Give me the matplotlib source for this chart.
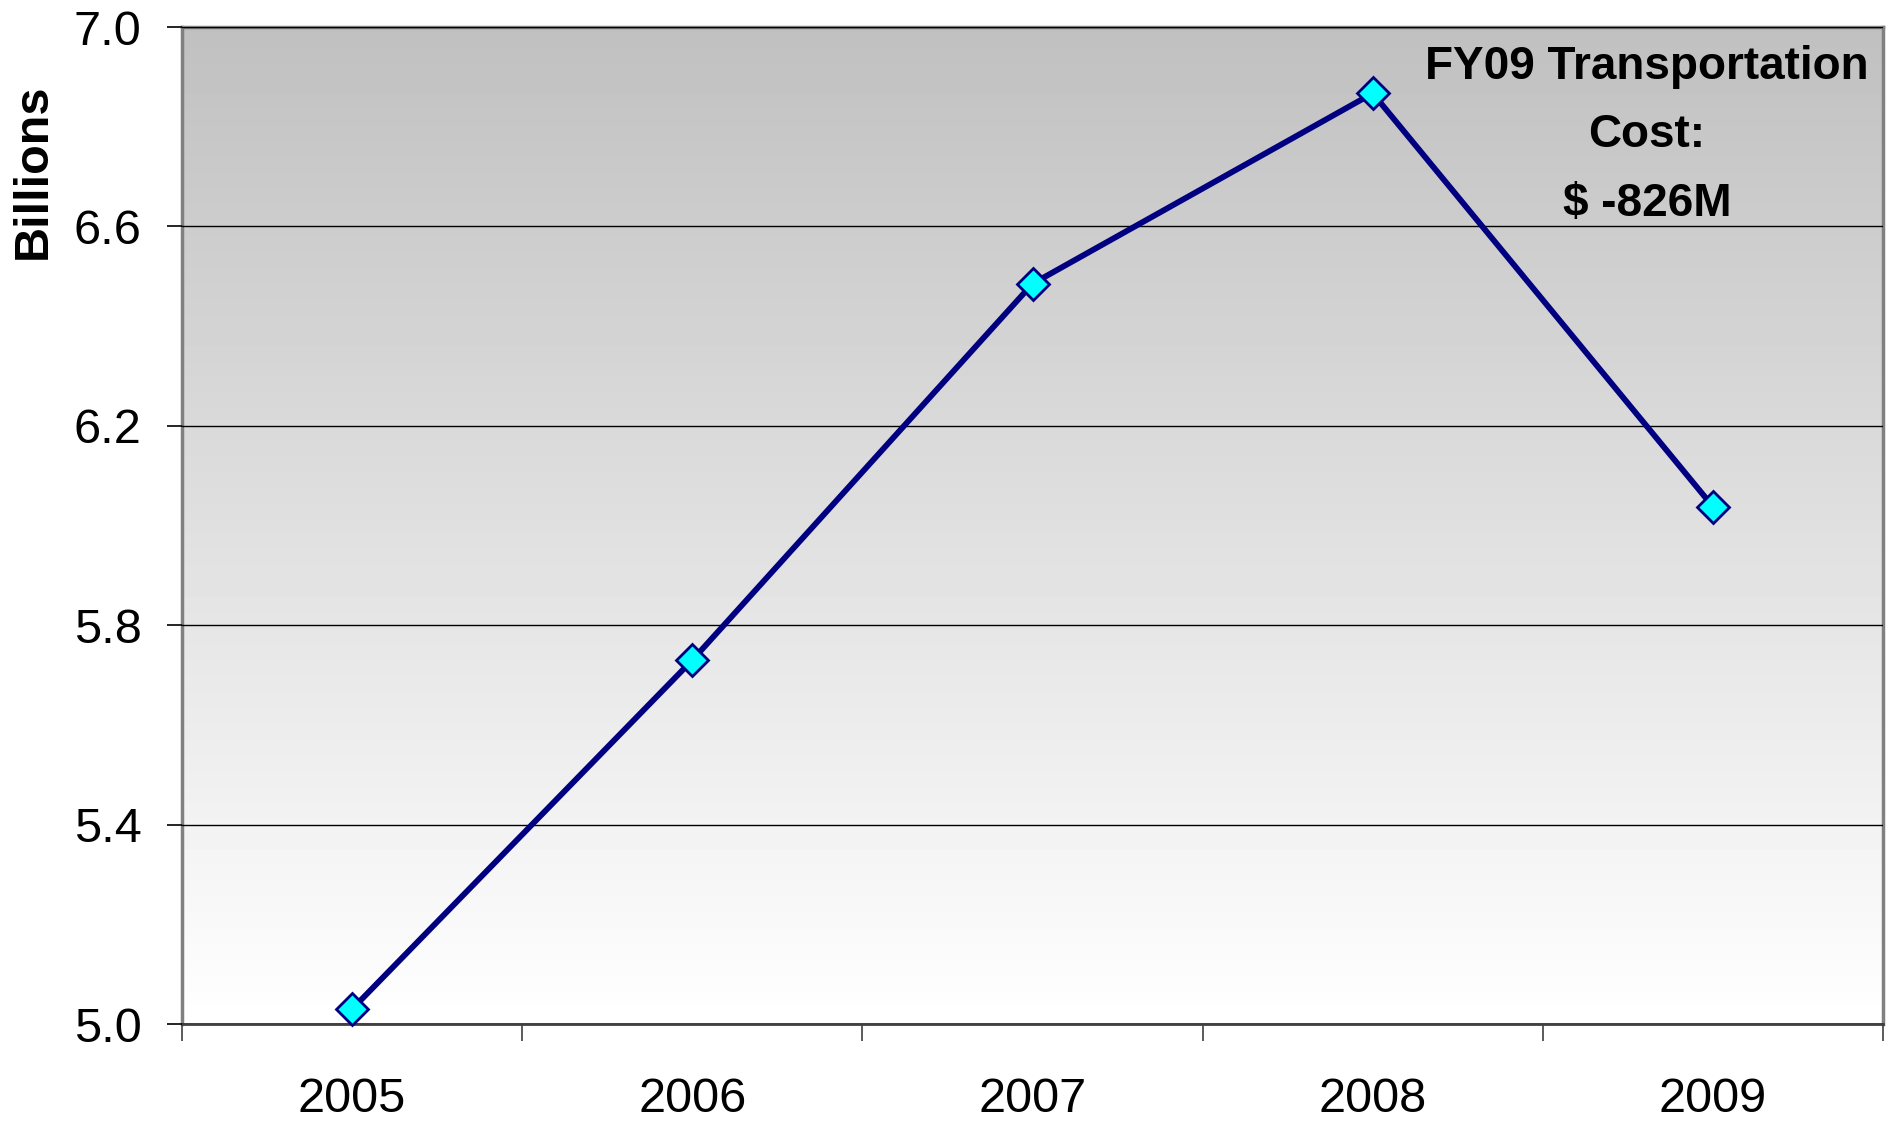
import matplotlib
matplotlib.use("Agg")
import matplotlib.pyplot as plt
import numpy as np

years = ["2005", "2006", "2007", "2008", "2009"]
cost_billions = [5.03, 5.73, 6.485, 6.867, 6.038]
y_ticks = [5.0, 5.4, 5.8, 6.2, 6.6, 7.0]
note = "FY09 Transportation\nCost:\n$ -826M"

plt.rcParams["font.family"] = ["Liberation Sans", "DejaVu Sans"]

fig = plt.figure(figsize=(18.94, 11.21), dpi=100)
ax = fig.add_axes([0.0961, 0.0865, 0.9942 - 0.0961, 0.9759 - 0.0865])

# grey-to-white gradient behind the plot
grad = np.linspace(0, 1, 256).reshape(-1, 1)
ax.imshow(grad, cmap="gray", vmin=-3.05, vmax=1.0, aspect="auto",
          extent=[0, 1, 0, 1], transform=ax.transAxes, zorder=0,
          origin="upper", interpolation="bicubic")

x = np.arange(len(years))
ax.plot(x, cost_billions, color="#000080", lw=4.2, zorder=3,
        marker="D", markersize=16, markerfacecolor="#00FFFF",
        markeredgecolor="#000080", markeredgewidth=2.0, clip_on=False)

ax.set_xlim(-0.5, len(years) - 0.5)
ax.set_ylim(y_ticks[0], y_ticks[-1])
ax.set_yticks(y_ticks)
ax.set_yticklabels([f"{v:.1f}" for v in y_ticks])
ax.yaxis.grid(True, color="black", lw=1.0, zorder=1)
ax.set_axisbelow(False)

ax.set_xticks(x)
ax.set_xticklabels(years)
ax.set_xticks(np.arange(len(years) + 1) - 0.5, minor=True)
ax.tick_params(axis="x", which="major", length=0, pad=38, labelsize=35)
ax.tick_params(axis="x", which="minor", length=12, width=1.2, color="#404040")
ax.tick_params(axis="y", length=11, width=1.2, pad=18, labelsize=35)

for side in ["left", "right", "top"]:
    ax.spines[side].set_color("#808080")
    ax.spines[side].set_linewidth(2.5)
ax.spines["bottom"].set_color("#404040")
ax.spines["bottom"].set_linewidth(2.0)

fig.text(33 / 1894, 1 - 171 / 1121, "Billions", rotation=90, ha="center",
         va="center", fontsize=35, fontweight="bold")
fig.text(1647 / 1894, 1 - 45 / 1121, note, ha="center", va="top",
         multialignment="center", fontsize=33, fontweight="bold",
         linespacing=1.72)

fig.savefig("out.png", dpi=100)
